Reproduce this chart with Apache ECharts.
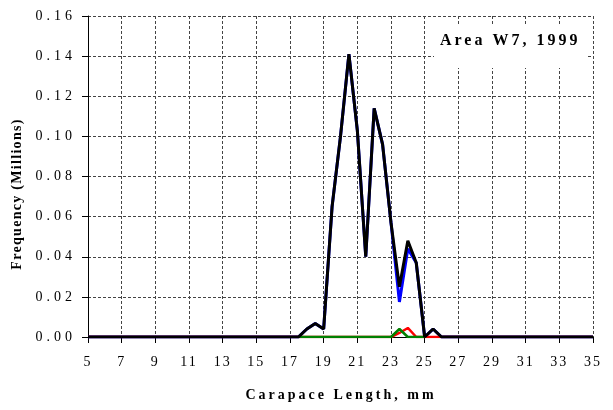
<!DOCTYPE html>
<html>
<head>
<meta charset="utf-8">
<script src="https://cdn.jsdelivr.net/npm/echarts@6/dist/echarts.min.js"></script>
<style>
html,body{margin:0;padding:0;background:#fff;}
#chart{width:613px;height:410px;}
</style>
</head>
<body>
<div id="chart"></div>
<script>
// Carapace length categories (mm), half-mm steps
var lengths = ['5','5.5','6','6.5','7','7.5','8','8.5','9','9.5','10','10.5','11','11.5','12','12.5','13','13.5','14','14.5',
  '15','15.5','16','16.5','17','17.5','18','18.5','19','19.5','20','20.5','21','21.5','22','22.5','23','23.5','24','24.5',
  '25','25.5','26','26.5','27','27.5','28','28.5','29','29.5','30','30.5','31','31.5','32','32.5','33','33.5','34','34.5','35'];

// Frequency (millions)
var totalFreq = [0,0,0,0,0,0,0,0,0,0, 0,0,0,0,0,0,0,0,0,0, 0,0,0,0,0,0,0.004,0.0067,0.004,0.065,
  0.100,0.141,0.103,0.040,0.114,0.096,0.057,0.025,0.048,0.037, 0,0.004,0,0,0,0,0,0,0,0, 0,0,0,0,0,0,0,0,0,0, 0];
var blueFreq = [0,0,0,0,0,0,0,0,0,0, 0,0,0,0,0,0,0,0,0,0, 0,0,0,0,0,0,0.004,0.0067,0.004,0.065,
  0.100,0.141,0.103,0.040,0.114,0.096,0.057,0.0175,0.044,0.037, 0,0.004,0,0,0,0,0,0,0,0, 0,0,0,0,0,0,0,0,0,0, 0];
var redFreq = [0,0,0,0,0,0,0,0,0,0, 0,0,0,0,0,0,0,0,0,0, 0,0,0,0,0,0,0,0,0,0,
  0,0,0,0,0,0,0,0.002,0.0045,0, 0,0,0,0,0,0,0,0,0,0, 0,0,0,0,0,0,0,0,0,0, 0];
var greenFreq = [null,null,null,null,null,null,null,null,null,null, null,null,null,null,null,null,null,null,null,null,
  null,null,null,null,null,0,0,0,0,0, 0,0,0,0,0,0,0,0.004,0,0, 0,null,null,null,null,null,null,null,null,null,
  null,null,null,null,null,null,null,null,null,null, null];

var yTicks = [0, 0.16, 0.02];
var titleText = 'Area W7, 1999';
var xTitle = 'Carapace Length, mm';
var yTitle = 'Frequency (Millions)';

// widen letter spacing of text like the original (Excel-style spacing)
(function(){
  var proto = CanvasRenderingContext2D.prototype;
  if (!('letterSpacing' in proto)) return;
  var orig = proto.fillText;
  function spacingFor(t){
    if (t === titleText || t === xTitle) return '3px';
    if (t === yTitle) return '1.3px';
    if (/^\d\.\d\d$/.test(t)) return '4px';
    if (/^\d+$/.test(t)) return '2px';
    return '0px';
  }
  proto.fillText = function(t, x, y, w){
    var prev = this.letterSpacing;
    this.letterSpacing = spacingFor(String(t));
    if (w === undefined) orig.call(this, t, x, y); else orig.call(this, t, x, y, w);
    this.letterSpacing = prev;
  };
})();

var serif = '"Liberation Serif","Times New Roman",serif';
var chart = echarts.init(document.getElementById('chart'), null, {renderer:'canvas'});
var gridLine = {show:true, lineStyle:{color:'#444', type:[3,2], width:1}};
chart.setOption({
  animation:false,
  backgroundColor:'#fff',
  grid:{left:88, right:20, top:16, bottom:73, containLabel:false},
  xAxis:{
    type:'category', data:lengths, boundaryGap:false,
    axisLine:{show:true, lineStyle:{color:'#000', width:1}},
    axisTick:{show:true, interval:3, length:6, lineStyle:{color:'#000'}},
    axisLabel:{interval:3, margin:18, color:'#000', fontFamily:serif, fontSize:14},
    splitLine:{show:true, interval:3, lineStyle:{color:'#444', type:[3,2], width:1}}
  },
  yAxis:{
    type:'value', min:yTicks[0], max:yTicks[1], interval:yTicks[2],
    axisLine:{show:true, lineStyle:{color:'#000', width:1}},
    axisTick:{show:true, length:6, lineStyle:{color:'#000'}},
    axisLabel:{margin:12, color:'#000', fontFamily:serif, fontSize:14,
      formatter:function(v){return v.toFixed(2);}},
    splitLine:gridLine
  },
  series:[
    {type:'line', data:blueFreq, showSymbol:false, symbol:'none', lineStyle:{color:'#0000ff', width:3}, z:2},
    {type:'line', data:redFreq, showSymbol:false, symbol:'none', lineStyle:{color:'#ff0000', width:2.5}, z:3},
    {type:'line', data:greenFreq, showSymbol:false, symbol:'none', lineStyle:{color:'#008000', width:2.5}, z:4},
    {type:'line', data:totalFreq, showSymbol:false, symbol:'none', lineStyle:{color:'#000000', width:3}, z:5}
  ],
  graphic:[
    {type:'rect', left:434, top:25, shape:{width:153, height:43}, style:{fill:'#fff'}, z:10},
    {type:'text', left:440, top:33, style:{text:titleText, fill:'#000', font:'bold 16px '+serif}, z:11},
    {type:'text', x:341, y:395, style:{text:xTitle, fill:'#000', font:'bold 14px '+serif, textAlign:'center', textVerticalAlign:'middle'}, z:11},
    {type:'text', x:17, y:194, rotation:Math.PI/2, style:{text:yTitle, fill:'#000', font:'bold 14px '+serif, textAlign:'center', textVerticalAlign:'middle'}, z:11}
  ]
});
</script>
</body>
</html>
